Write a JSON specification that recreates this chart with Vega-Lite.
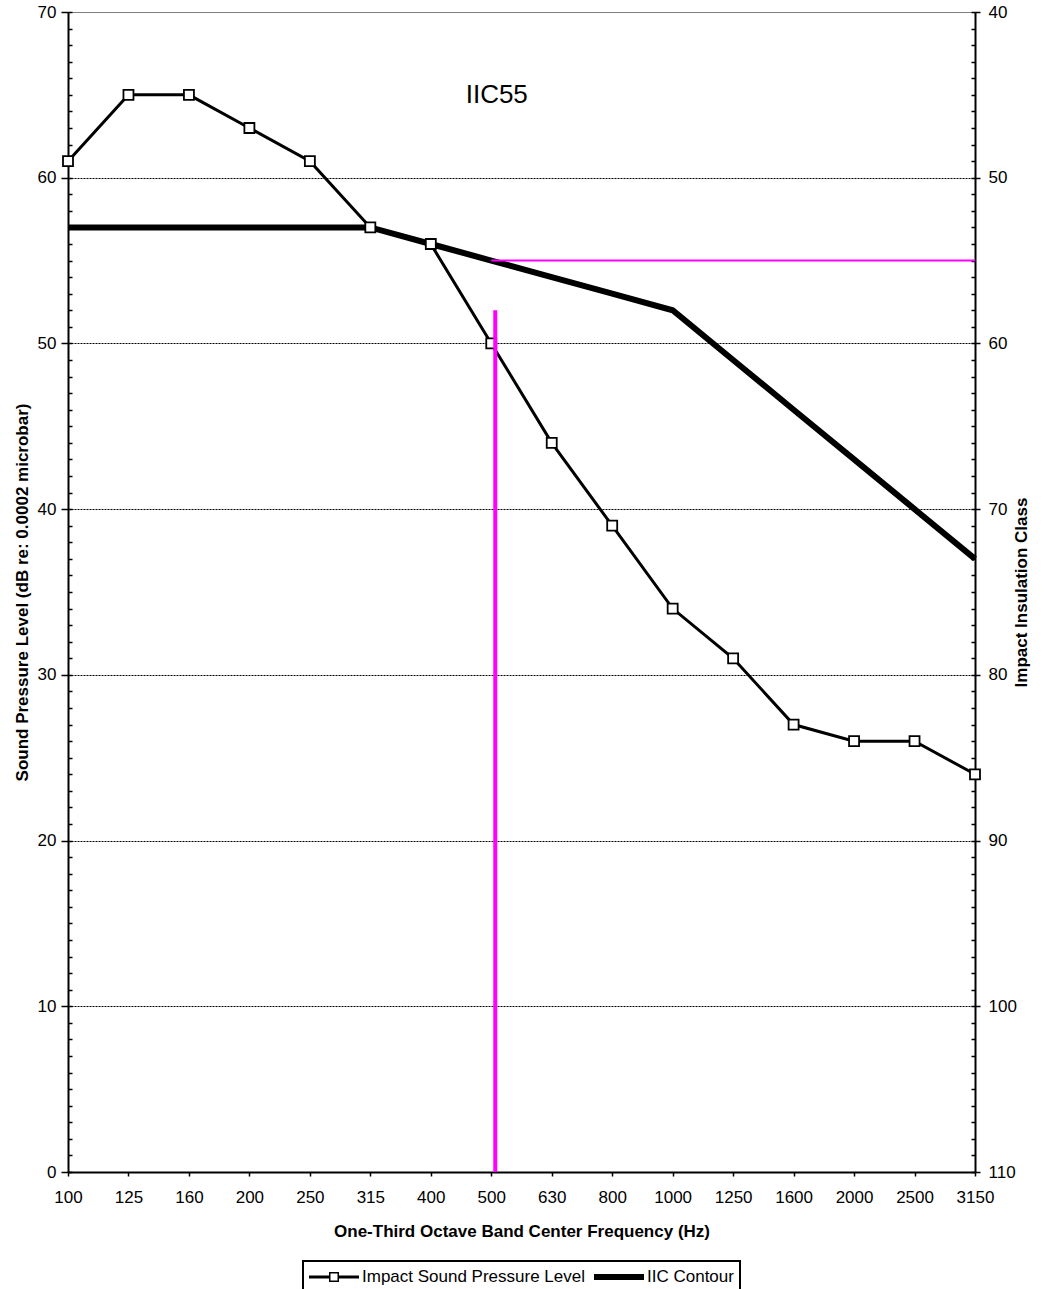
{
  "$schema": "https://vega.github.io/schema/vega-lite/v6.json",
  "width": 907,
  "height": 1160,
  "padding": {"left": 13, "top": 3, "right": 5, "bottom": 5},
  "background": "white",
  "config": {
    "font": "Liberation Sans",
    "view": {"stroke": "#808080", "strokeWidth": 1},
    "axis": {"labelFont": "Liberation Sans", "titleFont": "Liberation Sans", "labelColor": "black", "titleColor": "black", "domainColor": "black", "tickColor": "black", "labelFontSize": 17, "titleFontSize": 17, "titleFontWeight": "bold"},
    "legend": {"orient": "bottom", "direction": "horizontal", "layout": {"bottom": {"anchor": "middle"}}, "labelFontSize": 17, "labelFont": "Liberation Sans", "labelColor": "black", "symbolSize": 400, "symbolStrokeWidth": 0, "symbolFillColor": "black", "symbolOpacity": 1, "strokeColor": "black", "strokeWidth": 2, "padding": 6, "offset": 22, "labelOffset": 33, "columnPadding": 8, "labelLimit": 400}
  },
  "datasets": {
    "band": [
      {"freq": "100", "spl": 61, "iic": 57},
      {"freq": "125", "spl": 65, "iic": 57},
      {"freq": "160", "spl": 65, "iic": 57},
      {"freq": "200", "spl": 63, "iic": 57},
      {"freq": "250", "spl": 61, "iic": 57},
      {"freq": "315", "spl": 57, "iic": 57},
      {"freq": "400", "spl": 56, "iic": 56},
      {"freq": "500", "spl": 50, "iic": 55},
      {"freq": "630", "spl": 44, "iic": 54},
      {"freq": "800", "spl": 39, "iic": 53},
      {"freq": "1000", "spl": 34, "iic": 52},
      {"freq": "1250", "spl": 31, "iic": 49},
      {"freq": "1600", "spl": 27, "iic": 46},
      {"freq": "2000", "spl": 26, "iic": 43},
      {"freq": "2500", "spl": 26, "iic": 40},
      {"freq": "3150", "spl": 24, "iic": 37}
    ],
    "legendrows": [
      {"series": "Impact Sound Pressure Level"},
      {"series": "IIC Contour"}
    ],
    "hline": [{"from": "500", "to": "3150", "level": 55}],
    "vline": [{"freq": "500", "top": 52, "bottom": 0}],
    "label": [{"freq": "500", "level": 65, "text": "IIC55"}]
  },
  "encoding": {
    "x": {
      "field": "freq", "type": "ordinal", "sort": null,
      "scale": {"type": "point", "padding": 0, "domain": ["100","125","160","200","250","315","400","500","630","800","1000","1250","1600","2000","2500","3150"]},
      "axis": {"title": "One-Third Octave Band Center Frequency (Hz)", "labelAngle": 0, "tickSize": 4, "tickWidth": 1.5, "domainWidth": 2, "labelPadding": 13, "titlePadding": 18, "grid": false}
    }
  },
  "layer": [
    {
      "data": {"name": "band"},
      "mark": {"type": "line", "color": "black", "strokeWidth": 3},
      "encoding": {
        "y": {"field": "spl", "type": "quantitative", "scale": {"domain": [0, 70], "nice": false, "zero": false},
          "axis": {"orient": "left", "values": [0,10,20,30,40,50,60,70], "tickSize": 7, "tickWidth": 1.5, "domainWidth": 2, "labelPadding": 5, "title": "Sound Pressure Level (dB re: 0.0002 microbar)", "titlePadding": 6, "grid": false}}
      }
    },
    {
      "data": {"name": "band"},
      "mark": {"type": "line", "color": "black", "strokeWidth": 6},
      "encoding": {
        "y": {"field": "iic", "type": "quantitative", "scale": {"domain": [0, 70], "nice": false, "zero": false},
          "axis": {"orient": "left", "values": [10,20,30,40,50,60], "grid": true, "gridDash": [2, 1], "gridColor": "black", "gridWidth": 1, "gridOpacity": 1, "ticks": false, "labels": false, "domain": false, "title": null}}
      }
    },
    {
      "data": {"name": "band"},
      "mark": {"type": "point", "shape": "square", "size": 100, "filled": true, "fill": "white", "stroke": "black", "strokeWidth": 1.8, "opacity": 1},
      "encoding": {
        "y": {"field": "spl", "type": "quantitative", "scale": {"domain": [0, 70], "nice": false, "zero": false},
          "axis": {"orient": "left", "values": [0,1,2,3,4,5,6,7,8,9,10,11,12,13,14,15,16,17,18,19,20,21,22,23,24,25,26,27,28,29,30,31,32,33,34,35,36,37,38,39,40,41,42,43,44,45,46,47,48,49,50,51,52,53,54,55,56,57,58,59,60,61,62,63,64,65,66,67,68,69,70], "tickSize": -4, "tickWidth": 1.5, "labels": false, "domain": false, "title": null, "grid": false}}
      }
    },
    {
      "data": {"name": "hline"},
      "mark": {"type": "rule", "color": "#FF00FF", "strokeWidth": 2},
      "encoding": {
        "x": {"field": "from", "type": "ordinal", "sort": null,
          "scale": {"type": "point", "padding": 0, "domain": ["100","125","160","200","250","315","400","500","630","800","1000","1250","1600","2000","2500","3150"]},
          "axis": {"title": "One-Third Octave Band Center Frequency (Hz)", "labelAngle": 0, "tickSize": 4, "tickWidth": 1.5, "domainWidth": 2, "labelPadding": 13, "titlePadding": 18, "grid": false}},
        "x2": {"field": "to"},
        "y": {"field": "level", "type": "quantitative", "scale": {"domain": [0, 70], "nice": false, "zero": false}, "axis": null}
      }
    },
    {
      "data": {"name": "vline"},
      "mark": {"type": "rule", "color": "#FF00FF", "strokeWidth": 4, "xOffset": 4},
      "encoding": {
        "y": {"field": "top", "type": "quantitative", "scale": {"domain": [0, 70], "nice": false, "zero": false}, "axis": null},
        "y2": {"field": "bottom"}
      }
    },
    {
      "data": {"name": "label"},
      "mark": {"type": "text", "fontSize": 26, "font": "Liberation Sans", "color": "black", "baseline": "middle", "align": "center", "xOffset": 5.5},
      "encoding": {
        "y": {"field": "level", "type": "quantitative", "scale": {"domain": [0, 70], "nice": false, "zero": false}, "axis": null},
        "text": {"field": "text"}
      }
    },
    {
      "data": {"name": "legendrows"},
      "mark": {"type": "point", "filled": true, "color": "black", "opacity": 1},
      "encoding": {
        "y": {"field": "v", "type": "quantitative", "scale": {"domain": [40, 110], "reverse": true, "nice": false, "zero": false},
          "axis": {"orient": "right", "values": [40,50,60,70,80,90,100,110], "tickSize": 5, "tickWidth": 1.5, "domainWidth": 2, "labelPadding": 8, "title": "Impact Insulation Class", "titleAngle": 270, "titlePadding": 14, "grid": false}},
        "shape": {"field": "series", "type": "nominal", "title": null,
          "scale": {"domain": ["Impact Sound Pressure Level", "IIC Contour"], "range": ["M-1,-0.15H1V0.15H-1ZM2,-0.15H4V0.15H2ZM1,-0.5H2V0.5H1ZM1.15,-0.35V0.35H1.85V-0.35Z", "M-1,-0.3H4V0.3H-1Z"]},
          "legend": {"title": null, "symbolOpacity": 1}}
      }
    },
    {
      "data": {"name": "legendrows"},
      "mark": {"type": "point", "filled": true, "color": "black"},
      "encoding": {
        "y": {"field": "v", "type": "quantitative", "scale": {"domain": [40, 110], "reverse": true, "nice": false, "zero": false},
          "axis": {"orient": "right", "values": [40,41,42,43,44,45,46,47,48,49,50,51,52,53,54,55,56,57,58,59,60,61,62,63,64,65,66,67,68,69,70,71,72,73,74,75,76,77,78,79,80,81,82,83,84,85,86,87,88,89,90,91,92,93,94,95,96,97,98,99,100,101,102,103,104,105,106,107,108,109,110], "tickSize": -4, "tickWidth": 1.5, "labels": false, "domain": false, "title": null, "grid": false}}
      }
    }
  ],
  "resolve": {"scale": {"y": "independent"}, "axis": {"y": "independent"}}
}
